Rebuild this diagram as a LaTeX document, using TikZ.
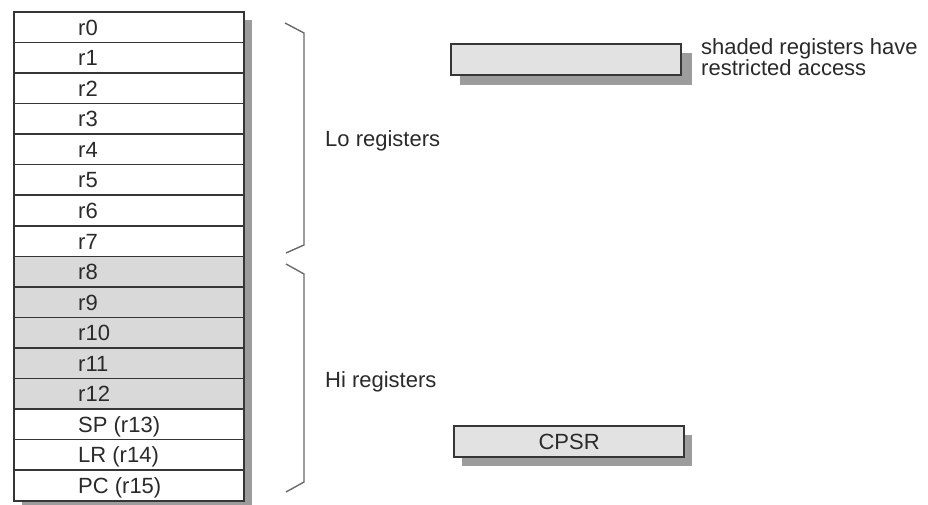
\documentclass[tikz,border=0pt]{standalone}
\usepackage{fontspec}
\setmainfont{Liberation Sans}
\definecolor{ink}{HTML}{363636}
\definecolor{txt}{HTML}{2A2A2A}
\definecolor{shade}{HTML}{D9D9D9}
\definecolor{boxfill}{HTML}{E2E2E2}
\definecolor{shadowc}{HTML}{9C9C9C}
\definecolor{bracec}{HTML}{6A6A6A}
\tikzset{
  regbox/.style={draw=ink, line width=1.6pt, fill=white, rectangle, minimum width=230pt, minimum height=30.5625pt, inner sep=0pt, anchor=north west},
  hibox/.style={regbox, fill=shade},
  reglabel/.style={anchor=base west, inner sep=0pt, text=txt, font=\fontsize{22}{26}\selectfont},
  sidelabel/.style={anchor=base west, inner sep=0pt, text=txt, font=\fontsize{22}{26}\selectfont},
  legbox/.style={draw=ink, line width=2.2pt, fill=boxfill, rectangle, inner sep=0pt, anchor=north west, minimum width=230pt, minimum height=31pt, text=txt, font=\fontsize{22}{26}\selectfont},
  bracestyle/.style={draw=bracec, line width=1.4pt, line join=miter}
}
\begin{document}
\begin{tikzpicture}[x=1pt,y=-1pt]
\useasboundingbox (0,0) rectangle (928,505);
\fill[white] (0,0) rectangle (928,505);
% column shadow
\fill[shadowc] (22,20) rectangle (252,512);
% register rows
\foreach \i/\lab/\sty in {0/r0/regbox,1/r1/regbox,2/r2/regbox,3/r3/regbox,4/r4/regbox,5/r5/regbox,6/r6/regbox,7/r7/regbox,8/r8/hibox,9/r9/hibox,10/r10/hibox,11/r11/hibox,12/r12/hibox,13/SP (r13)/regbox,14/LR (r14)/regbox,15/PC (r15)/regbox}{
  \node[\sty] (row\i) at (13,{11+\i*30.5625}) {};
  \node[reglabel] (lab\i) at ([xshift=65pt,yshift=-8pt]row\i.west) {\lab};
}
% braces
\coordinate (lotop) at (285,23);
\coordinate (lobot) at (286,253);
\draw[bracestyle] (lotop) -- (304,33) -- (304,245) -- (lobot);
\coordinate (hitop) at (286,264);
\coordinate (hibot) at (286,492);
\draw[bracestyle] (hitop) -- (304,274) -- (304,482) -- (hibot);
\node[sidelabel] (lo) at (325,147) {Lo registers};
\node[sidelabel] (hi) at (325,387) {Hi registers};
% legend box
\fill[shadowc] (460,53) rectangle (692,85);
\node[legbox] (legend) at (450,43) {};
\node[sidelabel] (legtexta) at (701,55) {shaded registers have};
\node[sidelabel] (legtextb) at (701,76) {restricted access};
% CPSR
\fill[shadowc] (462,435) rectangle (692,466);
\node[legbox] (cpsr) at (453,425) {CPSR};
\end{tikzpicture}
\end{document}
